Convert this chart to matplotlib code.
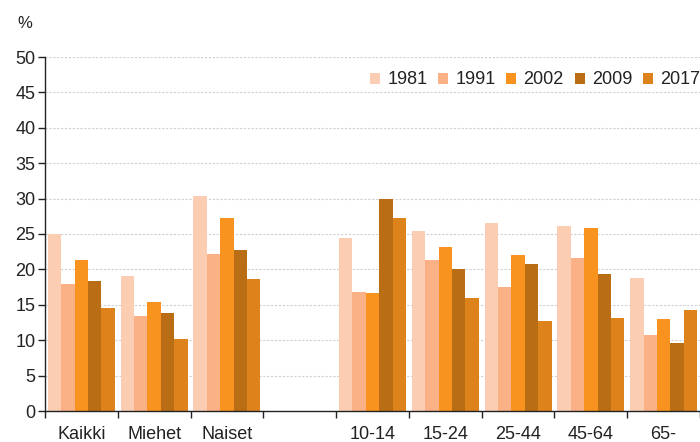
import numpy as np
import matplotlib
matplotlib.use("Agg")
import matplotlib.pyplot as plt
import matplotlib.ticker as mticker

plt.rcParams.update({
    "font.family": ["Liberation Sans", "DejaVu Sans"],
    "font.size": 13,
    "text.color": "#222",
    "xtick.color": "#222",
    "ytick.color": "#222",
})

# ── Data ──────────────────────────────────────────────────────────────────────
categories = ["Kaikki", "Miehet", "Naiset", "", "10-14", "15-24", "25-44", "45-64", "65-"]
years = ["1981", "1991", "2002", "2009", "2017"]

v1981 = [25.0, 19.0, 30.4, np.nan, 24.5, 25.4, 26.5, 26.1, 18.8]
v1991 = [18.0, 13.4, 22.2, np.nan, 16.8, 21.3, 17.5, 21.6, 10.7]
v2002 = [21.3, 15.4, 27.2, np.nan, 16.6, 23.1, 22.0, 25.8, 13.0]
v2009 = [18.4, 13.8, 22.7, np.nan, 30.0, 20.0, 20.7, 19.3, 9.6]
v2017 = [14.5, 10.2, 18.6, np.nan, 27.3, 15.9, 12.7, 13.2, 14.3]

series = [v1981, v1991, v2002, v2009, v2017]
colors = ["#fbcdb3", "#f9b185", "#f7931e", "#b96e16", "#de821c"]

# ── Figure ────────────────────────────────────────────────────────────────────
fig = plt.figure(figsize=(7.0, 4.42), dpi=100)
ax = fig.add_axes([45 / 700, 31 / 442, 655 / 700, 354 / 442])

x = np.arange(len(categories))
group_w = 0.92
bw = group_w / len(series)
for i, (vals, c, yr) in enumerate(zip(series, colors, years)):
    pos = x - group_w / 2 + bw * (i + 0.5)
    ax.bar(pos, vals, width=bw, color=c, label=yr, linewidth=0, zorder=2)

ax.set_xlim(-0.5, len(categories) - 0.5)
ax.set_ylim(0, 50)
ax.yaxis.set_major_locator(mticker.MultipleLocator(5))
ax.grid(axis="y", color="#cfcfcf", linestyle=(0, (2, 1.5)), linewidth=0.8, zorder=0)

ax.set_xticks(x)
ax.set_xticklabels(categories)
ax.set_xticks(np.arange(-0.5, len(categories) + 0.5, 1), minor=True)
ax.tick_params(axis="x", which="major", length=0, pad=11)
ax.tick_params(axis="x", which="minor", length=5, width=1, color="#222", direction="out")
ax.tick_params(axis="y", length=5, width=1, color="#222", direction="out", pad=2)

for s in ["top", "right"]:
    ax.spines[s].set_visible(False)
for s in ["left", "bottom"]:
    ax.spines[s].set_color("#222")
    ax.spines[s].set_linewidth(1)

fig.text(25 / 700, 1 - 23 / 442, "%", ha="center", va="center", fontsize=12)

leg = ax.legend(ncol=5, loc="center left", bbox_to_anchor=(370 / 700, 1 - 80 / 442),
                bbox_transform=fig.transFigure, frameon=False,
                handlelength=0.55, handleheight=0.55, handletextpad=0.4,
                columnspacing=0.6, borderaxespad=0, borderpad=0, fontsize=13)

fig.savefig("out.png", dpi=100)
